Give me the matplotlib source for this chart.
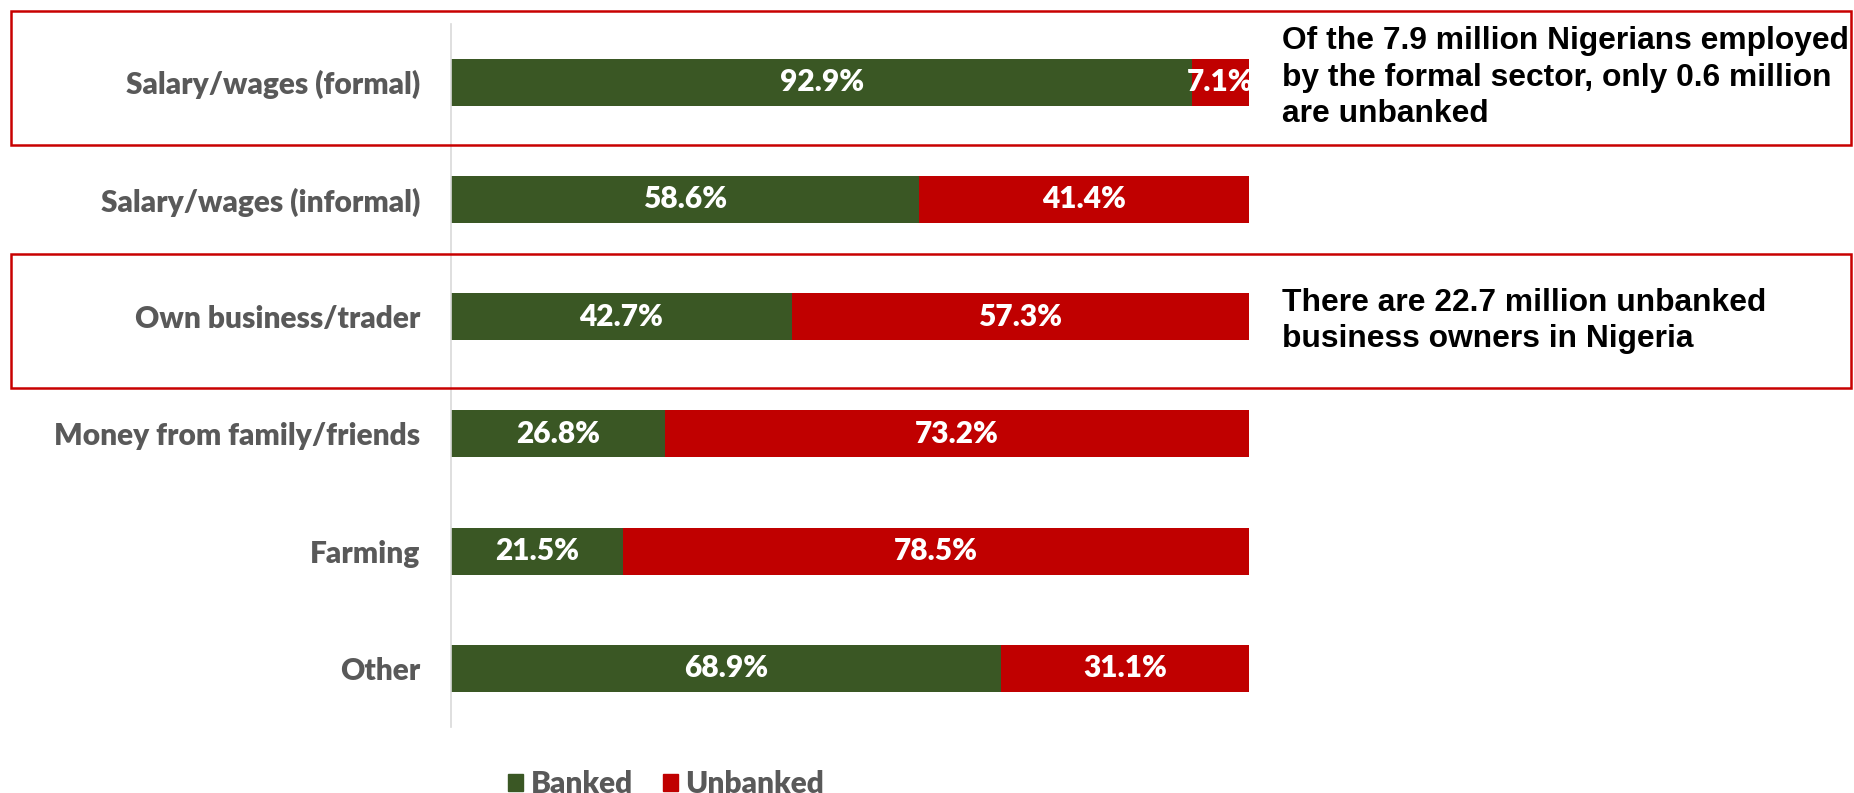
import numpy as np
import matplotlib
matplotlib.use("Agg")
from matplotlib import pyplot as plt
from matplotlib.patches import Rectangle, Patch

categories = ["Salary/wages (formal)", "Salary/wages (informal)", "Own business/trader",
              "Money from family/friends", "Farming", "Other"]
banked = [92.9, 58.6, 42.7, 26.8, 21.5, 68.9]
unbanked = [7.1, 41.4, 57.3, 73.2, 78.5, 31.1]

notes = [
    "Of the 7.9 million Nigerians employed\nby the formal sector, only 0.6 million\nare unbanked",
    "There are 22.7 million unbanked\nbusiness owners in Nigeria",
]

GREEN = "#3A5724"
RED = "#C00000"
GREY = "#595959"
LABEL_FONT = "Lato"
NOTE_FONT = "Liberation Sans"

W, H = 1854, 793
fig = plt.figure(figsize=(W / 100, H / 100), dpi=100)
ax = fig.add_axes([451 / W, 1 - 727 / H, 798 / W, (727 - 23.6) / H])

y = np.arange(len(categories))
bars_b = ax.barh(y, banked, height=0.4, color=GREEN)
bars_u = ax.barh(y, unbanked, left=banked, height=0.4, color=RED)

for bars in (bars_b, bars_u):
    for b in bars:
        ax.text(b.get_x() + b.get_width() / 2, b.get_y() + b.get_height() / 2,
                f"{b.get_width():.1f}%", ha="center", va="center", color="white",
                fontsize=21.5, fontweight="heavy", family=LABEL_FONT)

ax.set_xlim(0, 100)
ax.set_ylim(len(categories) - 0.5, -0.5)
ax.set_yticks(y)
ax.set_yticklabels(categories, fontsize=21.5, fontweight="heavy", color=GREY, family=LABEL_FONT)
ax.tick_params(axis="y", length=0, pad=22)
ax.set_xticks([])
for s in ["top", "right", "bottom"]:
    ax.spines[s].set_visible(False)
ax.spines["left"].set_color("#D9D9D9")
ax.spines["left"].set_linewidth(1.2)

# callout boxes with notes
boxes = [(10.7, 145), (254, 388.3)]
for (top, bottom), note in zip(boxes, notes):
    fig.add_artist(Rectangle((11 / W, 1 - bottom / H), (1851 - 11) / W, (bottom - top) / H,
                             transform=fig.transFigure, fill=False, edgecolor="#C80000",
                             linewidth=1.8))
    fig.text(1282 / W, 1 - (top + bottom) / 2 / H, note, ha="left", va="center",
             fontsize=22.9, fontweight="bold", family=NOTE_FONT, color="black",
             linespacing=1.28)

handles = [Patch(color=GREEN, label="Banked"), Patch(color=RED, label="Unbanked")]
leg = fig.legend(handles=handles, loc="center", bbox_to_anchor=(666 / W, 1 - 784 / H),
                 ncol=2, frameon=False, handlelength=0.5, handleheight=0.5,
                 handletextpad=0.25, columnspacing=1.0,
                 prop={"family": LABEL_FONT, "weight": "heavy", "size": 21.5})
for t in leg.get_texts():
    t.set_color(GREY)

plt.savefig("out.png", dpi=100)
plt.close()
